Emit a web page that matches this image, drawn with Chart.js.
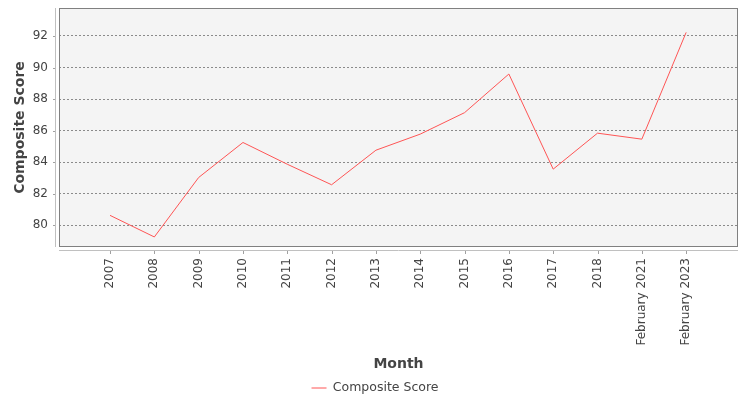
<!DOCTYPE html>
<html>
<head>
<meta charset="utf-8">
<script src="https://cdn.jsdelivr.net/npm/chart.js@4/dist/chart.umd.min.js"></script>
<style>
  html, body { margin: 0; padding: 0; background: #fff; }
  #wrap { width: 750px; height: 400px; }
</style>
</head>
<body>
<div id="wrap"><canvas id="chart" width="750" height="400"></canvas></div>
<script>
// データ
const months = ['2007', '2008', '2009', '2010', '2011', '2012', '2013', '2014',
  '2015', '2016', '2017', '2018', 'February 2021', 'February 2023'];
const compositeScore = [80.63, 79.26, 83.03, 85.25, 83.87, 82.57, 84.76, 85.78,
  87.14, 89.59, 83.56, 85.84, 85.46, 92.23];
const yTicks = [80, 82, 84, 86, 88, 90, 92];

const textColor = '#444444';
Chart.defaults.font.family = '"DejaVu Sans", sans-serif';
Chart.defaults.color = textColor;

// プロット枠と軸線を描くプラグイン
const plotFrame = {
  id: 'plotFrame',
  beforeDraw(chart) {
    const {ctx, chartArea: a} = chart;
    ctx.save();
    ctx.fillStyle = '#f4f4f4';
    ctx.fillRect(a.left, a.top, a.right - a.left, a.bottom - a.top);
    ctx.restore();
  },
  afterDraw(chart) {
    const {ctx, chartArea: a} = chart;
    const xs = chart.scales.x;
    const ys = chart.scales.y;
    ctx.save();
    // 枠
    ctx.strokeStyle = '#808080';
    ctx.lineWidth = 1;
    ctx.strokeRect(a.left + 0.5, a.top + 0.5, a.right - a.left - 1, a.bottom - a.top - 1);
    // 軸線
    ctx.strokeStyle = '#c0c0c0';
    ctx.beginPath();
    ctx.moveTo(a.left - 3.5, a.top);
    ctx.lineTo(a.left - 3.5, a.bottom);
    ctx.moveTo(a.left, a.bottom + 3.5);
    ctx.lineTo(a.right, a.bottom + 3.5);
    ctx.stroke();
    // 目盛り
    ctx.strokeStyle = '#a0a0a0';
    ctx.beginPath();
    xs.ticks.forEach(t => {
      const px = Math.round(xs.getPixelForValue(t.value)) + 0.5;
      ctx.moveTo(px, a.bottom + 4);
      ctx.lineTo(px, a.bottom + 7);
    });
    ys.ticks.forEach(t => {
      const py = Math.round(ys.getPixelForValue(t.value)) + 0.5;
      ctx.moveTo(a.left - 6, py);
      ctx.lineTo(a.left - 4, py);
    });
    ctx.stroke();
    ctx.restore();
  }
};

const ctx = document.getElementById('chart').getContext('2d');
new Chart(ctx, {
  type: 'line',
  data: {
    datasets: [{
      label: 'Composite Score',
      data: compositeScore.map((v, i) => ({x: i, y: v})),
      borderColor: 'rgb(255, 85, 85)',
      backgroundColor: 'rgb(255, 85, 85)',
      borderWidth: 1,
      pointRadius: 0,
      pointHoverRadius: 0,
      tension: 0,
      fill: false
    }]
  },
  options: {
    responsive: false,
    animation: false,
    layout: {
      // 右余白はx軸のpaddingRightで確保（凡例を中央に置くため）
      padding: {top: 8, right: 0, left: 0, bottom: -4.25}
    },
    scales: {
      x: {
        type: 'linear',
        min: -1.151,
        max: 14.17,
        afterBuildTicks(scale) {
          scale.ticks = months.map((m, i) => ({value: i}));
        },
        afterFit(scale) {
          scale.height = 128.75;
          scale.paddingLeft = 0;
          scale.paddingRight = 12;
        },
        grid: {display: false, drawTicks: false},
        border: {display: false},
        ticks: {
          autoSkip: false,
          minRotation: 90,
          maxRotation: 90,
          padding: 11,
          color: textColor,
          font: {size: 12},
          callback: (value) => months[value]
        },
        title: {
          display: true,
          text: 'Month',
          color: textColor,
          font: {size: 14, weight: 'bold'},
          padding: {top: 0, bottom: 3.35}
        }
      },
      y: {
        min: 78.624,
        max: 93.775,
        afterBuildTicks(scale) {
          scale.ticks = yTicks.map(v => ({value: v}));
        },
        afterFit(scale) {
          scale.width = 59;
          scale.paddingTop = 0;
          scale.paddingBottom = 0;
        },
        grid: {
          color: '#8a8a8a',
          lineWidth: 1,
          drawTicks: false
        },
        border: {display: false, dash: [2, 2]},
        ticks: {
          padding: 11,
          color: textColor,
          font: {size: 12}
        },
        title: {
          display: true,
          text: 'Composite Score',
          color: textColor,
          font: {size: 14, weight: 'bold'},
          padding: {top: 12.1, bottom: 0}
        }
      }
    },
    plugins: {
      legend: {
        position: 'bottom',
        labels: {
          usePointStyle: true,
          pointStyle: 'line',
          pointStyleWidth: 15,
          padding: 6,
          color: textColor,
          font: {size: 12.5}
        }
      },
      tooltip: {enabled: false}
    }
  },
  plugins: [plotFrame]
});
</script>
</body>
</html>
